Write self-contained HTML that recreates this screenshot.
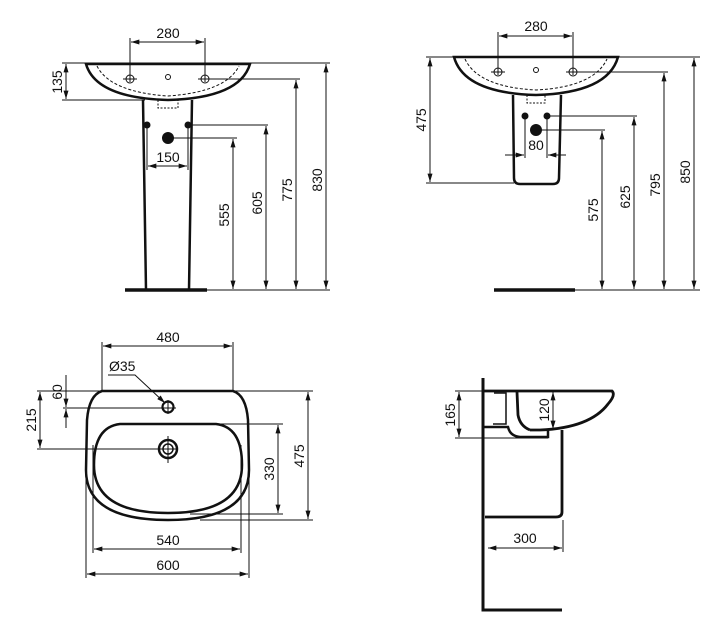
<!DOCTYPE html>
<html><head><meta charset="utf-8"><style>
html,body{margin:0;padding:0;background:#fff;}
svg{display:block;}
text{font-family:"Liberation Sans",sans-serif;font-size:14px;fill:#111;}
</style></head><body>
<svg width="720" height="644" viewBox="0 0 720 644" xmlns="http://www.w3.org/2000/svg">
<defs>
<marker id="a" viewBox="0 0 10 6" refX="10" refY="3" markerWidth="9" markerHeight="5" orient="auto-start-reverse" markerUnits="userSpaceOnUse"><path d="M0,0L10,3L0,6z" fill="#111"/></marker>
</defs>
<g stroke="#111" fill="none">
<!-- ===== Q1 pedestal front ===== -->
<g stroke-width="1">
<line x1="130" y1="38" x2="130" y2="82"/><line x1="205" y1="38" x2="205" y2="82"/>
<line x1="131" y1="42" x2="204" y2="42" marker-start="url(#a)" marker-end="url(#a)"/>
<line x1="62" y1="63" x2="330" y2="63"/>
<line x1="62" y1="100" x2="145" y2="100"/>
<line x1="66" y1="64" x2="66" y2="99" marker-start="url(#a)" marker-end="url(#a)"/>
<line x1="205" y1="79" x2="300" y2="79"/>
<line x1="188" y1="125" x2="268" y2="125"/>
<line x1="168" y1="138" x2="237" y2="138"/>
<line x1="147" y1="125" x2="147" y2="170"/><line x1="188" y1="125" x2="188" y2="170"/>
<line x1="148" y1="166" x2="187" y2="166" marker-start="url(#a)" marker-end="url(#a)"/>
<line x1="207" y1="290" x2="330" y2="290"/>
<line x1="233" y1="139" x2="233" y2="289" marker-start="url(#a)" marker-end="url(#a)"/>
<line x1="266" y1="126" x2="266" y2="289" marker-start="url(#a)" marker-end="url(#a)"/>
<line x1="296" y1="80" x2="296" y2="289" marker-start="url(#a)" marker-end="url(#a)"/>
<line x1="326" y1="64" x2="326" y2="289" marker-start="url(#a)" marker-end="url(#a)"/>
</g>
<path d="M86,64 L250,64 Q240,98 168,100 Q96,98 86,64Z" stroke-width="2.5"/>
<path d="M97,66 Q110,92 168,96 Q226,92 239,66" stroke-width="1" stroke-dasharray="3,2"/>
<path d="M158,100 L158,108 L178,108 L178,100" stroke-width="1" stroke-dasharray="2,1.5"/>
<path d="M143,100 L146,290 M192,100 L189,290" stroke-width="2.5"/>
<line x1="125" y1="290" x2="207" y2="290" stroke-width="3.5"/>
<g stroke-width="1"><circle cx="130" cy="79" r="4"/><line x1="123" y1="79" x2="137" y2="79"/><circle cx="205" cy="79" r="4"/><line x1="198" y1="79" x2="212" y2="79"/><circle cx="168" cy="77" r="2.5"/></g>
<!-- ===== Q2 wall-hung ===== -->
<g stroke-width="1">
<line x1="498" y1="32" x2="498" y2="75"/><line x1="573" y1="32" x2="573" y2="75"/>
<line x1="499" y1="36" x2="572" y2="36" marker-start="url(#a)" marker-end="url(#a)"/>
<line x1="426" y1="57" x2="700" y2="57"/>
<line x1="426" y1="183" x2="514" y2="183"/>
<line x1="430" y1="58" x2="430" y2="182" marker-start="url(#a)" marker-end="url(#a)"/>
<line x1="573" y1="72" x2="668" y2="72"/>
<line x1="547" y1="116" x2="637" y2="116"/>
<line x1="536" y1="130" x2="605" y2="130"/>
<line x1="525" y1="116" x2="525" y2="158"/><line x1="547" y1="116" x2="547" y2="158"/>
<line x1="505" y1="155" x2="524" y2="155" marker-end="url(#a)"/>
<line x1="566" y1="155" x2="548" y2="155" marker-end="url(#a)"/>
<line x1="575" y1="290" x2="700" y2="290"/>
<line x1="602" y1="131" x2="602" y2="289" marker-start="url(#a)" marker-end="url(#a)"/>
<line x1="634" y1="117" x2="634" y2="289" marker-start="url(#a)" marker-end="url(#a)"/>
<line x1="664" y1="73" x2="664" y2="289" marker-start="url(#a)" marker-end="url(#a)"/>
<line x1="694" y1="58" x2="694" y2="289" marker-start="url(#a)" marker-end="url(#a)"/>
</g>
<path d="M454,57 L618,57 Q608,93 536,95 Q464,93 454,57Z" stroke-width="2.5"/>
<path d="M465,59 Q478,87 536,90 Q594,87 607,59" stroke-width="1" stroke-dasharray="3,2"/>
<path d="M527,95 L527,103 L545,103 L545,95" stroke-width="1" stroke-dasharray="2,1.5"/>
<path d="M513,95 L514,178 Q514,184 520,184 L553,184 Q559,184 559,178 L561,95" stroke-width="2.5"/>
<line x1="494" y1="290" x2="575" y2="290" stroke-width="3.5"/>
<g stroke-width="1"><circle cx="498" cy="72" r="4"/><line x1="491" y1="72" x2="505" y2="72"/><circle cx="573" cy="72" r="4"/><line x1="566" y1="72" x2="580" y2="72"/><circle cx="536" cy="70" r="2.5"/></g>
<!-- ===== Q3 top view ===== -->
<g stroke-width="1">
<line x1="102" y1="342" x2="102" y2="391"/><line x1="233" y1="342" x2="233" y2="391"/>
<line x1="103" y1="346" x2="232" y2="346" marker-start="url(#a)" marker-end="url(#a)"/>
<path d="M108,375 L135,375 L165,403" marker-end="url(#a)"/>
<line x1="37" y1="391" x2="313" y2="391"/>
<line x1="63" y1="408" x2="176" y2="408"/>
<line x1="66" y1="375" x2="66" y2="407" marker-end="url(#a)"/>
<line x1="66" y1="428" x2="66" y2="409" marker-end="url(#a)"/>
<line x1="37" y1="449" x2="178" y2="449"/>
<line x1="40" y1="392" x2="40" y2="448" marker-start="url(#a)" marker-end="url(#a)"/>
<line x1="168" y1="400" x2="168" y2="414"/>
<line x1="168" y1="436" x2="168" y2="463"/>
<line x1="168" y1="424" x2="283" y2="424"/>
<line x1="190" y1="514" x2="283" y2="514"/>
<line x1="278" y1="425" x2="278" y2="513" marker-start="url(#a)" marker-end="url(#a)"/>
<line x1="200" y1="520" x2="313" y2="520"/>
<line x1="308" y1="392" x2="308" y2="519" marker-start="url(#a)" marker-end="url(#a)"/>
<line x1="93" y1="445" x2="93" y2="553"/><line x1="241" y1="445" x2="241" y2="553"/>
<line x1="94" y1="549" x2="240" y2="549" marker-start="url(#a)" marker-end="url(#a)"/>
<line x1="86" y1="470" x2="86" y2="578"/><line x1="249" y1="470" x2="249" y2="578"/>
<line x1="87" y1="574" x2="248" y2="574" marker-start="url(#a)" marker-end="url(#a)"/>
</g>
<path d="M102,391 L233,391 Q246,395 248,420 L249,470 Q249,520 168,520 Q86,520 86,470 L87,420 Q89,395 102,391Z" stroke-width="2.5"/>
<path d="M120,424 L216,424 Q242,427 242,465 Q242,513 168,513 Q94,513 94,465 Q94,427 120,424Z" stroke-width="2.5"/>
<circle cx="168" cy="407" r="5.5" stroke-width="2.2"/>
<circle cx="168" cy="449" r="9" stroke-width="2.5"/><circle cx="168" cy="449" r="5" stroke-width="1.5"/>
<!-- ===== Q4 side view ===== -->
<g stroke-width="1">
<line x1="455" y1="391" x2="484" y2="391"/>
<line x1="455" y1="438" x2="548" y2="438"/>
<line x1="459" y1="392" x2="459" y2="437" marker-start="url(#a)" marker-end="url(#a)"/>
<line x1="553" y1="392" x2="553" y2="429" marker-start="url(#a)" marker-end="url(#a)"/>
<line x1="488" y1="548" x2="562" y2="548" marker-start="url(#a)" marker-end="url(#a)"/>
<line x1="563" y1="520" x2="563" y2="552"/>
</g>
<path d="M483,378 L483,610 L562,610" stroke-width="3"/>
<path d="M484,391 L612,391 Q616,395 608,404 Q590,428 540,430 L530,430" stroke-width="2.8"/>
<path d="M517,392 L518,415 Q520,426 530,430" stroke-width="2.8"/>
<path d="M484,427 L508,427 Q510,436 520,437 L548,437 L548,430" stroke-width="2.5"/>
<path d="M494,393 L506,393 L506,424 L493,424" stroke-width="1.5"/>
<path d="M562,430 L562,512 Q562,517 556,517 L485,517" stroke-width="2.8"/>
</g>
<!-- dots -->
<g fill="#111">
<circle cx="147" cy="125" r="3.5"/><circle cx="188" cy="125" r="3.5"/><circle cx="168" cy="138" r="6"/>
<circle cx="525" cy="116" r="3.5"/><circle cx="547" cy="116" r="3.5"/><circle cx="536" cy="130" r="6"/>
</g>
<!-- Labels -->
<text x="168" y="38" text-anchor="middle">280</text>
<text transform="translate(62,82) rotate(-90)" text-anchor="middle">135</text>
<text x="168" y="162" text-anchor="middle">150</text>
<text transform="translate(229,215) rotate(-90)" text-anchor="middle">555</text>
<text transform="translate(262,203) rotate(-90)" text-anchor="middle">605</text>
<text transform="translate(292,190) rotate(-90)" text-anchor="middle">775</text>
<text transform="translate(322,180) rotate(-90)" text-anchor="middle">830</text>
<text x="536" y="31" text-anchor="middle">280</text>
<text transform="translate(426,120) rotate(-90)" text-anchor="middle">475</text>
<text x="536" y="150" text-anchor="middle">80</text>
<text transform="translate(598,210) rotate(-90)" text-anchor="middle">575</text>
<text transform="translate(630,197) rotate(-90)" text-anchor="middle">625</text>
<text transform="translate(660,185) rotate(-90)" text-anchor="middle">795</text>
<text transform="translate(690,172) rotate(-90)" text-anchor="middle">850</text>
<text x="168" y="342" text-anchor="middle">480</text>
<text x="109" y="371">Ø35</text>
<text transform="translate(62,392) rotate(-90)" text-anchor="middle">60</text>
<text transform="translate(36,420) rotate(-90)" text-anchor="middle">215</text>
<text transform="translate(274,469) rotate(-90)" text-anchor="middle">330</text>
<text transform="translate(304,456) rotate(-90)" text-anchor="middle">475</text>
<text x="168" y="545" text-anchor="middle">540</text>
<text x="168" y="570" text-anchor="middle">600</text>
<text transform="translate(455,415) rotate(-90)" text-anchor="middle">165</text>
<text transform="translate(549,410) rotate(-90)" text-anchor="middle">120</text>
<text x="525" y="543" text-anchor="middle">300</text>
</svg>
</body></html>
